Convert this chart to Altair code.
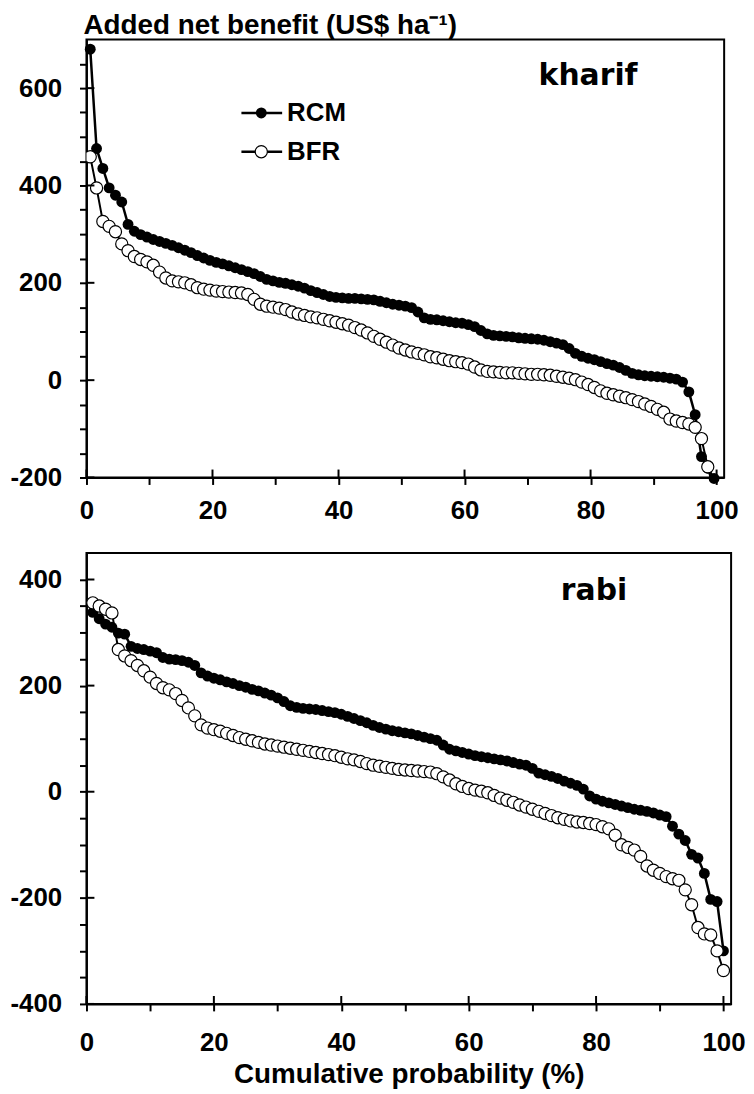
import altair as alt
import pandas as pd

# ---------------- data ----------------
# kharif (top panel): 100 ranked outcomes each
kharif_prob = [round(0.6 + i, 1) for i in range(100)]
kharif_rcm = [680, 476, 435, 395, 380, 366, 320, 306, 299, 294,
              289, 285, 281, 277, 272, 267, 262, 256, 251, 246,
              242, 239, 235, 231, 227, 223, 219, 213, 207, 204,
              201, 199, 196, 193, 189, 184, 180, 176, 172, 170,
              169, 168, 168, 167, 166, 165, 162, 159, 156, 154,
              152, 149, 140, 128, 125, 124, 122, 120, 118, 117,
              114, 110, 102, 95, 92, 91, 90, 89, 87, 86,
              85, 84, 82, 79, 76, 73, 65, 55, 49, 45,
              42, 38, 34, 31, 26, 20, 14, 11, 9, 8,
              7, 6, 4, 2, -4, -24, -71, -157, -181, -202]
kharif_bfr = [459, 395, 326, 316, 305, 280, 266, 254, 248, 243,
              236, 222, 210, 204, 202, 200, 196, 190, 187, 185,
              183, 182, 181, 180, 179, 176, 166, 156, 152, 150,
              148, 145, 140, 136, 133, 130, 128, 125, 122, 119,
              116, 113, 108, 103, 97, 90, 84, 78, 72, 66,
              62, 58, 55, 52, 48, 46, 43, 40, 38, 36,
              33, 27, 21, 18, 17, 16, 15, 15, 14, 13,
              12, 12, 11, 10, 8, 6, 4, 1, -4, -9,
              -15, -22, -27, -30, -33, -36, -40, -44, -49, -54,
              -60, -66, -80, -84, -87, -90, -97, -120, -178, -230]

# rabi (bottom panel)
rabi_prob = list(range(1, 101))
rabi_rcm = [338, 326, 316, 310, 299, 297, 274, 270, 268, 265,
            262, 253, 250, 249, 247, 244, 238, 224, 218, 214,
            211, 207, 204, 200, 197, 193, 190, 186, 182, 177,
            170, 162, 159, 157, 156, 155, 153, 151, 149, 146,
            142, 138, 134, 130, 125, 121, 118, 115, 113, 111,
            109, 106, 103, 100, 97, 88, 80, 77, 74, 71,
            68, 66, 64, 62, 60, 58, 55, 52, 50, 44,
            35, 32, 29, 25, 20, 16, 12, 5, -8, -14,
            -18, -21, -24, -27, -30, -33, -35, -37, -40, -44,
            -47, -65, -80, -92, -118, -125, -154, -203, -207, -300]
rabi_bfr = [356, 350, 344, 337, 268, 256, 247, 238, 228, 216,
            204, 196, 192, 185, 172, 158, 143, 126, 120, 117,
            114, 110, 106, 102, 99, 96, 93, 90, 88, 86,
            84, 82, 80, 78, 76, 74, 72, 70, 68, 65,
            62, 60, 57, 53, 50, 48, 46, 44, 42, 41,
            40, 39, 38, 37, 34, 28, 22, 15, 10, 6,
            3, 1, -2, -7, -12, -16, -20, -25, -29, -33,
            -37, -41, -45, -49, -52, -55, -57, -58, -60, -62,
            -66, -70, -82, -100, -105, -110, -122, -140, -148, -154,
            -160, -164, -167, -185, -213, -256, -268, -270, -300, -337]

series_names = ["RCM", "BFR"]
x_ticks = list(range(0, 101, 10))
x_major = list(range(0, 101, 20))
kharif_yticks = list(range(-200, 651, 50))
kharif_ymajor = [-200, 0, 200, 400, 600]
rabi_yticks = list(range(-400, 401, 50))
rabi_ymajor = [-400, -200, 0, 200, 400]

y_title = "Added net benefit (US$ ha\u207b\u00b9)"
x_title = "Cumulative probability (%)"

FONT = "Liberation Sans"
TFONT = "DejaVu Sans"

RCM_STYLE = dict(color="black", size=120)
BFR_STYLE = dict(fill="white", stroke="black", strokeWidth=1.2, size=150)


def panel(prob, rcm, bfr, ydom, yticks, ymajor, width, height, season,
          season_xy, xlabel_pad, xtitle=None, legend=False, title=None):
    df = pd.DataFrame({"p": prob, "RCM": rcm, "BFR": bfr})
    xs = alt.Scale(domain=[0, 101.2], nice=False, zero=False)
    ys = alt.Scale(domain=ydom, nice=False, zero=False)
    xaxis_kw = dict(
        values=x_ticks,
        labelExpr="datum.value % 20 === 0 ? datum.label : ''",
        format="d",
        tickSize=7, tickWidth=2, tickColor="black",
        domainWidth=2, domainColor="black",
        labelFont=FONT, labelFontSize=26, labelFontWeight="bold",
        labelColor="black", labelPadding=xlabel_pad, labelFlush=False,
        labelOverlap=False, grid=False,
    )
    if xtitle:
        xaxis = alt.Axis(title=xtitle, titleFont=FONT, titleFontSize=28,
                         titleFontWeight="bold", titleColor="black",
                         titlePadding=5, **xaxis_kw)
    else:
        xaxis = alt.Axis(title=None, **xaxis_kw)
    yaxis = alt.Axis(
        title=None, values=yticks, format="d",
        labelExpr="datum.value % 200 === 0 ? replace(datum.label, '\u2212', '-') : ''",
        tickSize=7, tickWidth=2, tickColor="black",
        domainWidth=2, domainColor="black",
        labelFont=FONT, labelFontSize=26, labelFontWeight="bold",
        labelColor="black", labelPadding=18, labelOverlap=False, grid=False,
    )

    def X(f):
        return alt.X(f, scale=xs, axis=xaxis)

    def Y(f):
        return alt.Y(f, scale=ys, axis=yaxis)

    base = alt.Chart(df)
    rcm_line = base.mark_line(color="black", strokeWidth=2.5).encode(
        x=X("p:Q"), y=Y("RCM:Q"))
    rcm_pt = base.mark_circle(opacity=1, **RCM_STYLE).encode(
        x=X("p:Q"), y=Y("RCM:Q"))
    bfr_line = base.mark_line(color="black", strokeWidth=2, clip=True).encode(
        x=X("p:Q"), y=Y("BFR:Q"))
    bfr_pt = base.mark_circle(opacity=1, clip=True, **BFR_STYLE).encode(
        x=X("p:Q"), y=Y("BFR:Q"))
    # inner half of the major ticks (ticks cross the axis lines)
    yt = alt.Chart(pd.DataFrame({"p": [0] * len(ymajor), "RCM": ymajor})).mark_rule(
        color="black", strokeWidth=2).encode(
        y=Y("RCM:Q"), x=alt.value(0), x2=alt.value(8))
    xt = alt.Chart(pd.DataFrame({"p": x_major})).mark_rule(
        color="black", strokeWidth=2).encode(
        x=X("p:Q"), y=alt.value(height), y2=alt.value(height - 8))
    label = alt.Chart(pd.DataFrame({"s": [season]})).mark_text(
        font=TFONT, fontSize=30, fontWeight="bold", color="black",
        align="center", baseline="middle").encode(
        text="s:N", x=alt.value(season_xy[0]), y=alt.value(season_xy[1]))
    layers = [rcm_line, rcm_pt, bfr_line, bfr_pt, yt, xt, label]
    if legend:
        rows = [(series_names[0], 74, RCM_STYLE),
                (series_names[1], 113, BFR_STYLE)]
        for name, yy, style in rows:
            ld = pd.DataFrame({"s": [name]})
            layers.append(alt.Chart(ld).mark_rule(color="black", strokeWidth=2.5)
                          .encode(x=alt.value(156), x2=alt.value(197), y=alt.value(yy)))
            layers.append(alt.Chart(ld).mark_circle(opacity=1, **style)
                          .encode(x=alt.value(176), y=alt.value(yy)))
            layers.append(alt.Chart(ld).mark_text(
                font=FONT, fontSize=26, fontWeight="bold", color="black",
                align="left", baseline="middle")
                .encode(text="s:N", x=alt.value(202), y=alt.value(yy)))
    ch = alt.layer(*layers).properties(width=width, height=height)
    if title:
        ch = ch.properties(title=alt.TitleParams(
            title, anchor="start", frame="group", font=FONT, fontSize=28,
            fontWeight="bold", color="black", offset=-1, dx=-3))
    return ch


top = panel(kharif_prob, kharif_rcm, kharif_bfr, [-200, 700], kharif_yticks,
            kharif_ymajor, 642, 441, "kharif", (505, 37), 13,
            legend=True, title=y_title)
bottom = panel(rabi_prob, rabi_rcm, rabi_bfr, [-400, 450], rabi_yticks,
               rabi_ymajor, 649, 454, "rabi", (511, 38), 19, xtitle=x_title)

chart = alt.vconcat(top, bottom, spacing=28).properties(
    padding=0, background="white"
).configure_view(stroke="black", strokeWidth=2)

chart.save("out.html", embed_options={"renderer": "svg", "actions": False})
